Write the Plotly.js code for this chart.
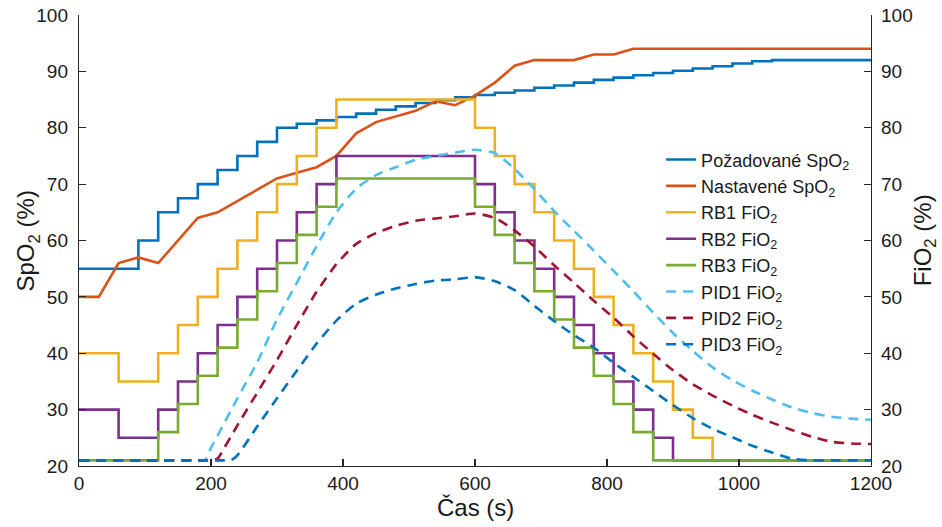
<!DOCTYPE html>
<html>
<head>
<meta charset="utf-8">
<script src="https://cdn.plot.ly/plotly-3.0.1.min.js"></script>
<style>html,body{margin:0;padding:0;background:#fff;}#chart{width:942px;height:527px;}</style>
</head>
<body>
<div id="chart"></div>
<script>
// time grid for the stepped series (s)
const tStep = [0,30,60,90,120,150,180,210,240,270,300,330,360,390,420,450,480,510,540,570,600,630,660,690,720,750,780,810,840,870,900,930,960,990,1020,1050,1080,1110,1140,1170,1200];
const spo2Req = [55,55,55,60,65,67.5,70,72.5,75,77.5,80,80.7,81.3,81.9,82.5,83.2,83.8,84.4,84.9,85.4,85.8,86.2,86.6,87.1,87.5,88.0,88.5,88.9,89.3,89.7,90.1,90.5,90.9,91.4,91.8,92,92,92,92,92,92];
const spo2Act = [50,50,56,57,56,60,64,65,67,69,71,72,73,75,79,81,82,83,84.7,84,85.7,88,91,92,92,92,93,93,94,94,94,94,94,94,94,94,94,94,94,94,94];
const rb1 = [40,40,35,35,40,45,50,55,60,65,70,75,80,85,85,85,85,85,85,85,80,75,70,65,60,55,50,45,40,35,30,25,21,21,21,21,21,21,21,21,21];
const rb2 = [30,30,25,25,30,35,40,45,50,55,60,65,70,75,75,75,75,75,75,75,70,65,60,55,50,45,40,35,30,25,21,21,21,21,21,21,21,21,21,21,21];
const rb3 = [21,21,21,21,26,31,36,41,46,51,56,61,66,71,71,71,71,71,71,71,66,61,56,51,46,41,36,31,26,21,21,21,21,21,21,21,21,21,21,21,21];
// time grid for the PID series (s)
const tPid = [0,180,190,200,210,220,230,240,270,300,330,360,390,420,450,480,510,540,570,600,630,660,690,720,750,780,810,840,870,900,930,960,990,1020,1050,1080,1110,1140,1170,1200];
const pid1 = [21,21,21,23.2,25.4,27.6,29.8,32.0,38.4,46.0,52.5,59.0,65.0,69.2,71.6,73.0,74.3,75.0,75.6,76.1,75.5,72.7,69.1,65.2,61.7,58.2,54.6,51.0,47.2,43.6,40.4,37.5,35.2,33.4,31.8,30.4,29.4,28.75,28.4,28.2];
const pid2 = [21,21,21,21,21.3,23.2,25.2,27.2,33.0,38.8,45.0,50.9,55.8,59.4,61.3,62.6,63.5,63.9,64.3,64.8,64.0,61.8,58.9,55.6,52.5,49.3,46.3,43.0,39.9,37.0,34.5,32.5,30.7,29.1,27.7,26.4,25.2,24.3,24.0,23.9];
const pid3 = [21,21,21,21,21,21,21,21.9,27.0,32.0,36.9,41.7,45.8,48.8,50.4,51.5,52.3,52.9,53.1,53.5,52.8,51.2,48.4,45.7,43.2,41.0,38.3,35.8,33.3,30.8,28.5,26.6,25.1,23.6,22.4,21.3,21,21,21,21];

const names = ['Požadované SpO<sub>2</sub>','Nastavené SpO<sub>2</sub>','RB1 FiO<sub>2</sub>','RB2 FiO<sub>2</sub>','RB3 FiO<sub>2</sub>','PID1 FiO<sub>2</sub>','PID2 FiO<sub>2</sub>','PID3 FiO<sub>2</sub>'];
const colors = ['#0072BD','#D95319','#EDB120','#7E2F8E','#77AC30','#4DBEEE','#A2142F','#0072BD'];
const LW = 2.6;
const DASH = '10px,7px';

const traces = [
  {x:tStep, y:spo2Req, name:names[0], mode:'lines', line:{color:colors[0], width:LW, shape:'hv'}},
  {x:tStep, y:spo2Act, name:names[1], mode:'lines', line:{color:colors[1], width:LW, shape:'linear'}},
  {x:tStep, y:rb1, name:names[2], mode:'lines', yaxis:'y2', line:{color:colors[2], width:LW, shape:'hv'}},
  {x:tStep, y:rb2, name:names[3], mode:'lines', yaxis:'y2', line:{color:colors[3], width:LW, shape:'hv'}},
  {x:tStep, y:rb3, name:names[4], mode:'lines', yaxis:'y2', line:{color:colors[4], width:LW, shape:'hv'}},
  {x:tPid, y:pid1, name:names[5], mode:'lines', yaxis:'y2', line:{color:colors[5], width:LW, dash:DASH, shape:'spline', smoothing:0.6}},
  {x:tPid, y:pid2, name:names[6], mode:'lines', yaxis:'y2', line:{color:colors[6], width:LW, dash:DASH, shape:'spline', smoothing:0.6}},
  {x:tPid, y:pid3, name:names[7], mode:'lines', yaxis:'y2', line:{color:colors[7], width:LW, dash:DASH, shape:'spline', smoothing:0.6}}
];

const FONT = 'Liberation Sans, Arial, Helvetica, sans-serif';
const TXT = '#1a1a1a';
const axisCommon = {
  showgrid:false, zeroline:false, showline:true, linecolor:'#262626', linewidth:1.2,
  ticks:'inside', ticklen:7, tickwidth:1.2, tickcolor:'#262626',
  tickfont:{family:FONT, size:19, color:TXT}
};

const layout = {
  width:942, height:527,
  margin:{l:79, r:71, t:15, b:61},
  paper_bgcolor:'#fff', plot_bgcolor:'#fff',
  font:{family:FONT, color:TXT},
  showlegend:true,
  legend:{x:0.735, y:0.72, xanchor:'left', yanchor:'top', bgcolor:'rgba(0,0,0,0)', borderwidth:0,
          font:{family:FONT, size:18, color:TXT}, tracegroupgap:0},
  xaxis:Object.assign({}, axisCommon, {range:[0,1200], tickvals:[0,200,400,600,800,1000,1200], ticklabelstandoff:0}),
  yaxis:Object.assign({}, axisCommon, {range:[20,100], tickvals:[20,30,40,50,60,70,80,90,100], ticklabelstandoff:6}),
  yaxis2:Object.assign({}, axisCommon, {range:[20,100], tickvals:[20,30,40,50,60,70,80,90,100], overlaying:'y', side:'right', ticklabelstandoff:5}),
  annotations:[
    {text:'SpO<sub>2</sub> (%)', xref:'paper', yref:'paper', x:-0.0644, y:0.5, xanchor:'center', yanchor:'middle', textangle:-90, showarrow:false, font:{family:FONT, size:24, color:TXT}},
    {text:'FiO<sub>2</sub> (%)', xref:'paper', yref:'paper', x:1.068, y:0.5, xanchor:'center', yanchor:'middle', textangle:-90, showarrow:false, font:{family:FONT, size:24, color:TXT}},
    {text:'Čas (s)', xref:'paper', yref:'paper', x:0.5, y:-0.093, xanchor:'center', yanchor:'middle', showarrow:false, font:{family:FONT, size:24, color:TXT}}
  ]
};

Plotly.newPlot('chart', traces, layout, {displayModeBar:false, staticPlot:true});
</script>
</body>
</html>
